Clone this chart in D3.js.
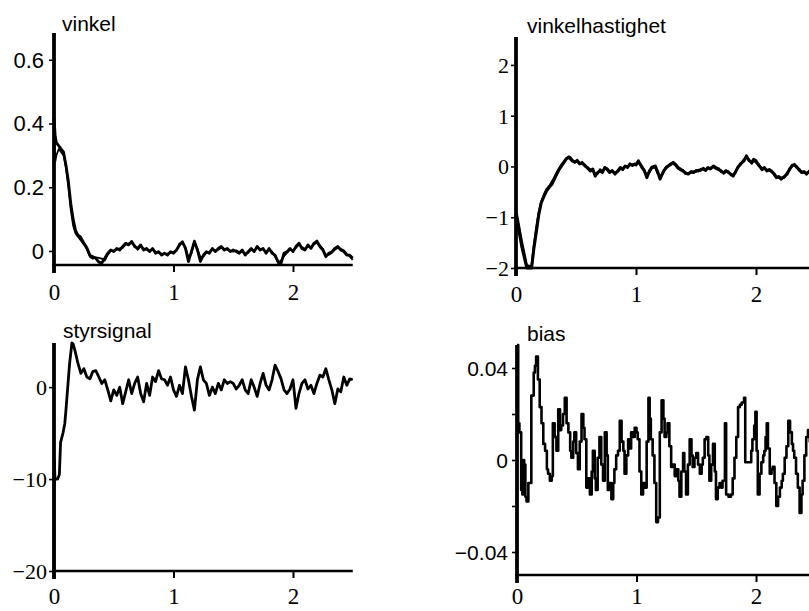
<!DOCTYPE html>
<html><head><meta charset="utf-8">
<script src="https://cdn.jsdelivr.net/npm/d3@7"></script>
<style>
html,body{margin:0;padding:0;background:#fff;}
svg{display:block;}
</style></head>
<body>
<svg id="chart" width="809" height="611"></svg>
<script>
// ---------- DATA ----------
const xTicks = [0, 1, 2];
const xMax = 2.5;
const tailStep = 0.025;

// vinkel (two traces)
const vinkelHeadA = [[0,0.42],[0.01,0.36],[0.02,0.34],[0.04,0.33],[0.06,0.32],[0.08,0.31],[0.1,0.27],[0.12,0.22],[0.14,0.15],[0.16,0.10],[0.18,0.065],[0.2,0.05],[0.22,0.045],[0.25,0.025],[0.275,0.01]];
const vinkelTailA = [-0.013,-0.018,-0.023,-0.035,-0.038,-0.023,-0.007,0.003,-0.002,0.008,
 0.003,0.014,0.024,0.019,0.03,0.014,0.008,0.019,0.003,0.008,
 -0.002,0.008,-0.007,-0.002,-0.013,-0.007,-0.013,-0.002,-0.007,0.003,
 0.019,0.029,0.008,-0.033,-0.002,0.031,0.003,-0.033,-0.013,-0.002,
 -0.007,0.008,-0.002,0.008,0.014,0.003,0.008,-0.002,0.003,-0.002,
 -0.007,0.003,-0.013,-0.002,0.008,-0.002,0.014,0.003,0.008,-0.007,
 0.008,-0.007,-0.013,-0.033,-0.039,-0.007,-0.002,0.008,-0.002,0.014,
 0.024,0.008,0.003,0.019,0.008,0.024,0.031,0.014,0.003,-0.018,
 -0.007,-0.002,0.008,0.014,0.003,-0.002,-0.013,-0.013,-0.023];
const vinkelHeadB = [[0,0.38],[0.01,0.28],[0.02,0.30],[0.04,0.32],[0.06,0.31],[0.08,0.30],[0.1,0.26],[0.12,0.2],[0.14,0.13],[0.16,0.08],[0.18,0.055],[0.2,0.045],[0.22,0.035],[0.25,0.02],[0.275,0.005]];
const vinkelTailB = [-0.018,-0.024,-0.02,-0.022,-0.024,-0.03,-0.012,0.0,0.002,0.004,
 0.008,0.01,0.02,0.024,0.025,0.018,0.004,0.014,0.008,0.004,
 0.002,0.004,-0.002,-0.006,-0.008,-0.01,-0.008,-0.006,-0.003,0.0,
 0.024,0.024,0.012,-0.02,-0.008,0.025,0.008,-0.02,-0.018,-0.006,
 -0.003,0.004,0.002,0.004,0.01,0.007,0.004,0.002,-0.002,0.002,
 -0.003,-0.002,-0.008,-0.006,0.004,0.002,0.01,0.007,0.004,-0.002,
 0.004,-0.002,-0.018,-0.038,-0.03,-0.016,-0.006,0.004,0.002,0.01,
 0.02,0.012,0.007,0.014,0.012,0.02,0.026,0.018,0.007,-0.012,
 -0.012,-0.006,0.004,0.01,0.007,0.002,-0.008,-0.018,-0.028];
const vinkelTailStart = 0.3;

// vinkelhastighet (two traces)
const hastA = [[0,-0.95],[0.05,-1.6],[0.09,-2.0],[0.13,-2.0],[0.15,-1.6],[0.17,-1.28],[0.19,-0.95],[0.21,-0.72],[0.235,-0.58],[0.255,-0.48],[0.28,-0.4],[0.3,-0.35],[0.32,-0.25],[0.34,-0.15],[0.36,-0.06],[0.38,0.01],[0.4,0.08],[0.42,0.15],[0.44,0.19],
 [0.45,0.18],[0.47,0.12],[0.49,0.08],[0.51,0.12],[0.53,0.05],[0.55,0.08],[0.575,0.01],[0.6,-0.03],[0.62,-0.09],[0.64,-0.05],[0.66,-0.19],[0.68,-0.12],[0.7,-0.09],[0.72,-0.12],[0.74,-0.02],[0.76,-0.06],[0.78,-0.12],[0.8,-0.08],[0.825,-0.15],[0.85,-0.08],[0.87,-0.02],[0.89,-0.06],[0.91,0.01],[0.93,-0.02],[0.95,0.05],[0.97,0.02],[0.99,0.05],[1.0,0.03],[1.02,0.11],[1.05,-0.02],[1.07,-0.08],[1.09,-0.22],[1.11,-0.1],[1.13,-0.02],[1.16,0.01],[1.18,-0.1],[1.2,-0.25],[1.23,-0.09],[1.25,-0.03],[1.27,0.01],[1.29,0.04],[1.31,0.08],[1.33,0.04],[1.35,-0.02],[1.37,-0.05],[1.39,-0.09],[1.41,-0.12],[1.435,-0.15],[1.46,-0.1],[1.48,-0.12],[1.5,-0.08],[1.52,-0.09],[1.54,-0.06],[1.56,-0.05],[1.58,-0.08],[1.6,-0.02],[1.62,-0.05],[1.645,0.01],[1.67,-0.03],[1.69,-0.05],[1.71,-0.1],[1.73,-0.12],[1.75,-0.08],[1.77,-0.12],[1.79,-0.15],[1.81,-0.19],[1.83,-0.1],[1.85,-0.02],[1.87,0.05],[1.9,0.11],[1.92,0.21],[1.94,0.12],[1.965,0.08],[1.98,0.14],[2.0,0.11],[2.02,0.03],[2.05,-0.05],[2.07,-0.02],[2.09,-0.09],[2.11,-0.06],[2.13,-0.09],[2.15,-0.15],[2.17,-0.22],[2.19,-0.2],[2.21,-0.25],[2.235,-0.2],[2.26,-0.15],[2.28,-0.05],[2.3,0.01],[2.32,0.04],[2.34,-0.02],[2.36,-0.06],[2.38,-0.12],[2.4,-0.1],[2.42,-0.15],[2.45,-0.08],[2.48,-0.12],[2.5,-0.1]];
const hastB = [[0,-0.85],[0.05,-1.5],[0.09,-1.95],[0.13,-1.97],[0.15,-1.55],[0.17,-1.2],[0.19,-0.9],[0.21,-0.7],[0.235,-0.55],[0.255,-0.45],[0.28,-0.38],[0.3,-0.3],[0.32,-0.22],[0.34,-0.12],[0.36,-0.04],[0.38,0.04],[0.4,0.1],[0.42,0.16],[0.44,0.17],
 [0.45,0.15],[0.47,0.1],[0.49,0.1],[0.51,0.09],[0.53,0.07],[0.55,0.05],[0.575,0.03],[0.6,-0.05],[0.62,-0.06],[0.64,-0.08],[0.66,-0.15],[0.68,-0.14],[0.7,-0.06],[0.72,-0.1],[0.74,-0.04],[0.76,-0.04],[0.78,-0.1],[0.8,-0.1],[0.825,-0.12],[0.85,-0.1],[0.87,-0.04],[0.89,-0.04],[0.91,0.0],[0.93,0.0],[0.95,0.03],[0.97,0.04],[0.99,0.03],[1.0,0.05],[1.02,0.08],[1.05,0.0],[1.07,-0.1],[1.09,-0.18],[1.11,-0.12],[1.13,-0.04],[1.16,-0.01],[1.18,-0.13],[1.2,-0.21],[1.23,-0.11],[1.25,-0.01],[1.27,0.02],[1.29,0.06],[1.31,0.06],[1.33,0.02],[1.35,-0.04],[1.37,-0.07],[1.39,-0.07],[1.41,-0.14],[1.435,-0.13],[1.46,-0.12],[1.48,-0.1],[1.5,-0.1],[1.52,-0.07],[1.54,-0.08],[1.56,-0.03],[1.58,-0.06],[1.6,-0.04],[1.62,-0.03],[1.645,-0.01],[1.67,-0.05],[1.69,-0.07],[1.71,-0.08],[1.73,-0.14],[1.75,-0.1],[1.77,-0.1],[1.79,-0.17],[1.81,-0.16],[1.83,-0.12],[1.85,0.0],[1.87,0.03],[1.9,0.14],[1.92,0.18],[1.94,0.14],[1.965,0.06],[1.98,0.12],[2.0,0.08],[2.02,0.05],[2.05,-0.07],[2.07,-0.04],[2.09,-0.07],[2.11,-0.08],[2.13,-0.11],[2.15,-0.13],[2.17,-0.2],[2.19,-0.22],[2.21,-0.22],[2.235,-0.22],[2.26,-0.12],[2.28,-0.07],[2.3,0.03],[2.32,0.02],[2.34,0.0],[2.36,-0.08],[2.38,-0.1],[2.4,-0.12],[2.42,-0.13],[2.45,-0.1],[2.48,-0.1],[2.5,-0.12]];

// styrsignal
const styrHead = [[0,-20],[0.003,-8],[0.008,-10],[0.03,-10],[0.045,-9.5],[0.055,-6],[0.075,-5],[0.09,-4],[0.1,-2.5],[0.115,0],[0.13,2.5],[0.15,4.8],[0.16,4.7]];
const styrTail = [4.0,2.6,1.5,2.0,1.1,0.9,1.7,1.8,1.1,0.4,
 0.8,-0.3,-1.5,-0.3,-0.9,0,-1.8,-0.5,0.8,-0.7,
 0.4,1.1,-0.7,-1.6,0.4,-0.9,1.1,0.6,1.8,0.9,
 0.8,0.2,1.1,-0.3,-1.0,0.2,-0.7,2.2,0.8,-1.0,
 -2.5,0.8,2.2,0.8,0.4,-0.9,0,-0.7,0.4,-0.3,
 0.8,0.4,0.6,0.4,-0.2,0.2,0.8,-0.3,-0.7,0.8,
 0,-1.0,0.4,1.5,0.2,-0.3,0.8,2.4,1.7,0.9,
 -0.3,-0.7,-0.2,0.8,-2.3,-0.7,0.4,0.8,-0.2,0.2,
 -0.7,0.4,1.3,1.1,2.0,0.8,-0.3,-1.8,-0.2,-0.5,
 1.1,0.2,0.9,0.8];
const styrTailStart = 0.175;

// bias
const bias = [[0,0.05],[0.01,0.016],[0.02,0.012],[0.035,-0.013],[0.045,-0.015],[0.055,0],[0.06,-0.002],[0.07,-0.016],[0.08,-0.018],[0.095,-0.01],[0.12,0.028],[0.14,0.038],[0.15,0.041],[0.16,0.045],[0.175,0.035],[0.19,0.023],[0.205,0.016],[0.22,0.007],[0.235,0.004],[0.25,-0.004],[0.26,-0.006],[0.275,-0.009],[0.29,-0.007],[0.3,0.016],[0.315,0.01],[0.33,0.004],[0.345,0.022],[0.36,0.013],[0.37,0.015],[0.385,0.02],[0.4,0.027],[0.415,0.016],[0.43,0.012],[0.445,0.004],[0.455,0.001],[0.47,0.008],[0.48,0.012],[0.495,0.003],[0.51,-0.004],[0.525,0.008],[0.54,0.02],[0.555,0.014],[0.565,0.009],[0.58,-0.012],[0.595,-0.008],[0.61,-0.015],[0.625,-0.005],[0.635,0.004],[0.65,-0.008],[0.66,-0.013],[0.675,0.001],[0.69,0.01],[0.705,-0.002],[0.72,-0.009],[0.735,0.012],[0.75,0.002],[0.76,-0.013],[0.775,-0.01],[0.79,-0.017],[0.805,-0.01],[0.815,-0.004],[0.83,0.002],[0.845,0.004],[0.86,0.017],[0.875,0.008],[0.89,0.004],[0.9,-0.006],[0.915,0.002],[0.93,0.009],[0.945,0.005],[0.955,0.012],[0.97,0.01],[0.985,0.014],[1.0,0.012],[1.01,0.009],[1.025,-0.005],[1.04,-0.015],[1.055,-0.01],[1.07,-0.012],[1.085,0.008],[1.1,0.027],[1.11,0.018],[1.12,0.009],[1.135,0.002],[1.15,-0.01],[1.165,-0.027],[1.18,-0.025],[1.195,0.012],[1.21,0.026],[1.225,0.018],[1.235,0.01],[1.25,0.012],[1.26,0.016],[1.275,0.006],[1.29,-0.003],[1.305,-0.002],[1.32,-0.007],[1.335,-0.004],[1.35,-0.009],[1.36,-0.016],[1.375,-0.005],[1.39,0.003],[1.4,-0.005],[1.415,-0.015],[1.43,-0.002],[1.445,0.009],[1.46,0.002],[1.47,-0.003],[1.485,0.001],[1.5,0.003],[1.515,-0.002],[1.53,-0.006],[1.545,-0.002],[1.555,0.001],[1.57,0.009],[1.585,0.01],[1.6,0.002],[1.61,-0.009],[1.625,-0.002],[1.64,0.007],[1.655,-0.005],[1.665,-0.017],[1.68,-0.012],[1.695,-0.01],[1.71,-0.012],[1.72,-0.009],[1.74,0.016],[1.75,-0.015],[1.77,-0.016],[1.79,-0.015],[1.805,-0.008],[1.82,0.001],[1.835,0.01],[1.85,0.023],[1.865,0.024],[1.88,0.025],[1.9,0.027],[1.91,-0.001],[1.925,-0.001],[1.945,-0.001],[1.96,0.004],[1.97,0.009],[1.985,0.015],[1.995,0.021],[2.005,0.004],[2.015,-0.015],[2.03,-0.006],[2.045,-0.001],[2.06,0.002],[2.07,0.004],[2.08,0.01],[2.09,0.016],[2.1,0.005],[2.115,-0.006],[2.13,-0.004],[2.14,-0.003],[2.155,-0.01],[2.17,-0.02],[2.185,-0.016],[2.2,-0.012],[2.215,-0.009],[2.225,-0.006],[2.24,0.001],[2.255,0.006],[2.27,0.017],[2.285,0.012],[2.3,0.007],[2.31,0.004],[2.32,0.001],[2.335,-0.006],[2.35,-0.012],[2.365,-0.023],[2.38,-0.015],[2.39,-0.009],[2.405,0.002],[2.42,0.01],[2.435,0.013],[2.45,0.008],[2.47,0.0],[2.5,-0.004]];

// tick labels
const vinkelYTicks = [0, 0.2, 0.4, 0.6];
const hastYTicks = [-2, -1, 0, 1, 2];
const styrYTicks = [-20, -10, 0];
const biasYTicks = [-0.04, 0, 0.04];
const biasYMinor = [-0.02, 0.02];
const titles = ["vinkel", "vinkelhastighet", "styrsignal", "bias"];

// ---------- helpers ----------
const withTail = (head, tail, start) =>
  head.concat(tail.map((v, i) => [start + i * tailStep, v]));
const minus = s => String(s).replace("-", "\u2212");

const svg = d3.select("#chart");
const SERIF = "'Liberation Serif','Times New Roman',serif";
const SANS = "'Liberation Sans',Arial,Helvetica,sans-serif";

function panel(cfg) {
  const x = d3.scaleLinear().domain([0, xMax]).range([cfg.x0, cfg.x0 + xMax * cfg.ppu]);
  const y = d3.scaleLinear().domain(cfg.yDomain).range([cfg.yBottom, cfg.yTop]);
  const g = svg.append("g");

  // x axis ticks + labels
  const xa = g.append("g").attr("transform", `translate(0,${cfg.yBottom})`)
    .call(d3.axisBottom(x).tickValues(xTicks).tickSize(7).tickFormat(d3.format("d")));
  xa.select(".domain").remove();
  xa.selectAll(".tick line").attr("stroke", "#000").attr("stroke-width", 2);
  xa.selectAll(".tick text").attr("y", cfg.xLabelDy).attr("dy", 0)
    .style("font-family", SERIF).style("font-size", cfg.xFont + "px").attr("fill", "#000");

  // y axis ticks + labels
  const ya = g.append("g").attr("transform", `translate(${cfg.x0},0)`)
    .call(d3.axisLeft(y).tickValues(cfg.yTicks).tickSize(5).tickPadding(cfg.yPad)
      .tickFormat(d => minus(cfg.yFmt(d))));
  ya.select(".domain").remove();
  ya.selectAll(".tick line").attr("stroke", "#000").attr("stroke-width", 1.6);
  ya.selectAll(".tick text").style("font-family", cfg.yFamily)
    .style("font-size", cfg.yFont + "px").attr("fill", "#000").attr("dy", "0.34em");
  if (cfg.yMinor) {
    const ym = g.append("g").attr("transform", `translate(${cfg.x0},0)`)
      .call(d3.axisLeft(y).tickValues(cfg.yMinor).tickSize(5).tickFormat(""));
    ym.select(".domain").remove();
    ym.selectAll(".tick line").attr("stroke", "#000").attr("stroke-width", 1.6);
  }

  // axis lines
  g.append("line").attr("x1", cfg.x0 - 2).attr("x2", x(xMax))
    .attr("y1", cfg.yBottom).attr("y2", cfg.yBottom)
    .attr("stroke", "#000").attr("stroke-width", 2.6);
  g.append("line").attr("x1", cfg.x0).attr("x2", cfg.x0)
    .attr("y1", cfg.yTop).attr("y2", cfg.yBottom + 8)
    .attr("stroke", "#000").attr("stroke-width", 3.8);

  // series
  cfg.series.forEach(s => {
    const line = d3.line().x(d => x(d[0])).y(d => y(d[1])).curve(s.curve || d3.curveLinear);
    g.append("path").datum(s.data).attr("d", line)
      .attr("fill", "none").attr("stroke", "#000")
      .attr("stroke-width", s.w).attr("stroke-linejoin", "round");
  });

  // title
  g.append("text").attr("x", cfg.titleX).attr("y", cfg.titleY)
    .style("font-family", SANS).style("font-size", "21px").attr("fill", "#000")
    .text(cfg.title);
}

panel({
  x0: 54, ppu: 119.5, yTop: 33, yBottom: 265, yDomain: [-0.044, 0.684],
  yTicks: vinkelYTicks, yFmt: d => d === 0 ? "0" : d3.format(".1f")(d),
  yFamily: SANS, yFont: 22, yPad: 5, xFont: 23, xLabelDy: 35,
  title: titles[0], titleX: 62, titleY: 31,
  series: [
    { data: withTail(vinkelHeadB, vinkelTailB, vinkelTailStart), w: 1.8 },
    { data: withTail(vinkelHeadA, vinkelTailA, vinkelTailStart), w: 2.8 }
  ]
});

panel({
  x0: 516, ppu: 120, yTop: 37, yBottom: 268, yDomain: [-2, 2.55],
  yTicks: hastYTicks, yFmt: d3.format("d"),
  yFamily: SERIF, yFont: 22, yPad: 2, xFont: 23, xLabelDy: 34,
  title: titles[1], titleX: 527, titleY: 33,
  series: [
    { data: hastB, w: 2.4 },
    { data: hastA, w: 3 }
  ]
});

panel({
  x0: 54, ppu: 119.5, yTop: 343, yBottom: 571, yDomain: [-20, 4.8],
  yTicks: styrYTicks, yFmt: d3.format("d"),
  yFamily: SERIF, yFont: 22, yPad: 2, xFont: 23, xLabelDy: 33,
  title: titles[2], titleX: 63, titleY: 338,
  series: [
    { data: withTail(styrHead, styrTail, styrTailStart), w: 2.8 }
  ]
});

panel({
  x0: 517, ppu: 119.5, yTop: 345, yBottom: 575, yDomain: [-0.05, 0.05],
  yTicks: biasYTicks, yMinor: biasYMinor, yFmt: d => d === 0 ? "0" : d3.format(".2f")(d),
  yFamily: SANS, yFont: 21, yPad: 4, xFont: 23, xLabelDy: 29,
  title: titles[3], titleX: 527, titleY: 341,
  series: [
    { data: bias, w: 2.6, curve: d3.curveStepAfter }
  ]
});
</script>
</body></html>
